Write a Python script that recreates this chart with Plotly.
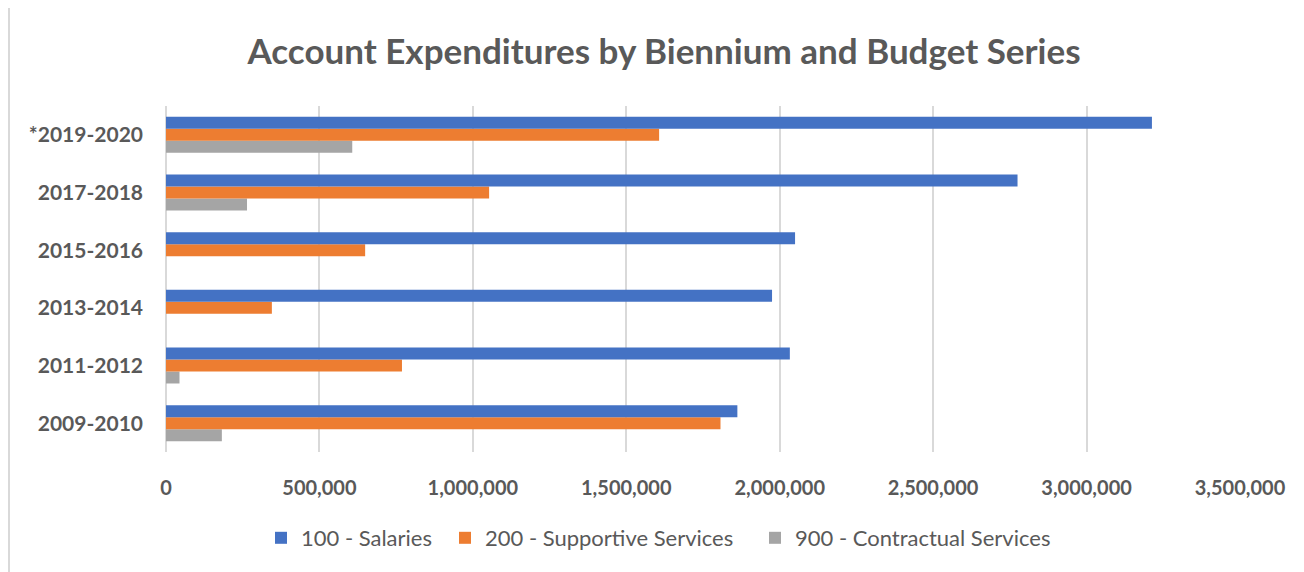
import plotly.graph_objects as go

categories = ["2009-2010", "2011-2012", "2013-2014", "2015-2016", "2017-2018", "*2019-2020"]
salaries = [1862000, 2033000, 1975000, 2050000, 2775000, 3213000]
supportive = [1807000, 769000, 345000, 649000, 1053000, 1607000]
contractual = [182000, 44000, 0, 0, 264000, 607000]
series_names = ["100 - Salaries", "200 - Supportive Services", "900 - Contractual Services"]
colors = ["#4472C4", "#ED7D31", "#A5A5A5"]
x_ticks = [0, 500000, 1000000, 1500000, 2000000, 2500000, 3000000, 3500000]
x_tick_labels = ["0", "500,000", "1,000,000", "1,500,000", "2,000,000", "2,500,000", "3,000,000", "3,500,000"]

TXT = "#595959"
FONT = "Lato"

OFF = 8  # page body margin
PW_, PH_ = 1304, 572  # page size
W, H = PW_ - OFF, PH_ - OFF
L, R, T, B = 166 - OFF, 64, 106 - OFF, 120
pw, ph = W - L - R, H - T - B

def px_x(page_x):
    return (page_x - OFF - L) / pw

def px_y(page_y):
    return (OFF + H - B - page_y) / ph

fig = go.Figure()
# Add bottom-to-top so that Salaries sits at the top of each group
for vals, name, col, lg in [(contractual, series_names[2], colors[2], "legend3"),
                            (supportive, series_names[1], colors[1], "legend2"),
                            (salaries, series_names[0], colors[0], "legend")]:
    fig.add_trace(go.Bar(y=categories, x=vals, name=name, orientation="h",
                         marker=dict(color=col, line=dict(width=0)), legend=lg,
                         showlegend=True))

legend_text_starts = [300, 484, 794]

def leg(text_start):
    return dict(orientation="h", x=px_x(text_start - 39), xanchor="left",
                y=px_y(538), yanchor="middle",
                font=dict(family=FONT, size=22, color=TXT),
                itemwidth=30, bgcolor="rgba(0,0,0,0)")

fig.update_layout(
    width=W, height=H,
    margin=dict(l=L, r=R, t=T, b=B),
    paper_bgcolor="white", plot_bgcolor="white",
    showlegend=True,
    barmode="group", bargap=0.376, bargroupgap=0,
    font=dict(family=FONT, color=TXT),
    title=dict(text="<b>Account Expenditures by Biennium and Budget Series</b>",
               x=(664 - OFF) / W, xanchor="center", y=1 - (52 - OFF) / H, yanchor="middle",
               font=dict(family=FONT, size=35, color=TXT)),
    legend=leg(legend_text_starts[0]),
    legend2=leg(legend_text_starts[1]),
    legend3=leg(legend_text_starts[2]),
    xaxis=dict(range=[0, 3500000], tickvals=x_ticks,
               ticktext=["<b>" + t + "</b>" for t in x_tick_labels],
               showgrid=True, gridcolor="#D9D9D9", gridwidth=2,
               zeroline=True, zerolinecolor="#D9D9D9", zerolinewidth=2,
               showline=False, ticks="", ticklabelstandoff=22,
               tickfont=dict(family=FONT, size=20, color=TXT),
               fixedrange=True),
    yaxis=dict(categoryorder="array", categoryarray=categories,
               tickvals=categories, ticktext=["<b>" + c + "</b>" for c in categories],
               showgrid=False, zeroline=False, showline=False, ticks="",
               ticklabelstandoff=22,
               tickfont=dict(family=FONT, size=21, color=TXT),
               fixedrange=True),
    shapes=[dict(type="rect", xref="paper", yref="paper",
                 x0=px_x(9), x1=px_x(PW_ + 20),
                 y0=px_y(PH_ + 20), y1=px_y(7),
                 line=dict(color="#D9D9D9", width=2), fillcolor="rgba(0,0,0,0)",
                 layer="below")],
)

fig.write_html("out.html")
